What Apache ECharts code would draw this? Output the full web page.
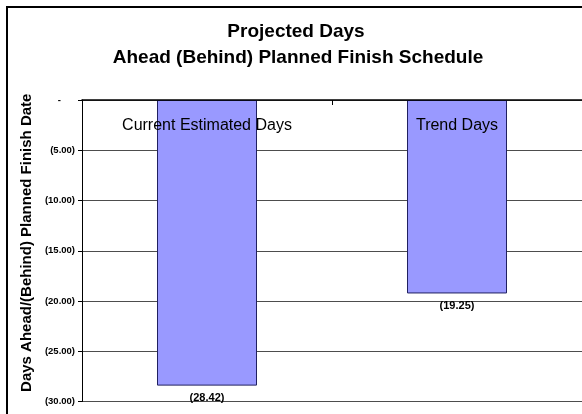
<!DOCTYPE html>
<html>
<head>
<meta charset="utf-8">
<script src="https://cdn.jsdelivr.net/npm/echarts@6/dist/echarts.min.js"></script>
<style>
  html, body { margin: 0; padding: 0; background: #fff; }
  #chart { width: 582px; height: 414px; }
</style>
</head>
<body>
<div id="chart"></div>
<script>
// Schedule variance, in days (negative = behind plan)
const categories = ['Current Estimated Days', 'Trend Days'];
const daysAhead = [-28.42, -19.25];
const titleLines = ['Projected Days', 'Ahead (Behind) Planned Finish Schedule'];
const yAxisTitle = 'Days Ahead/(Behind) Planned Finish Date';

const FONT = '"Liberation Sans", Arial, Helvetica, sans-serif';

// Accounting style: negatives in parentheses, zero as a dash
function acct(v) {
  if (v === 0) return '{z|-}';
  return '(' + Math.abs(v).toFixed(2) + ')';
}

const chart = echarts.init(document.getElementById('chart'), null, { renderer: 'canvas' });

chart.setOption({
  animation: false,
  backgroundColor: '#ffffff',
  graphic: [
    {
      type: 'rect',
      shape: { x: 7, y: 7, width: 700, height: 600 },
      style: { fill: 'none', stroke: '#000', lineWidth: 2 },
      silent: true
    },
    {
      type: 'text',
      x: 296, y: 32,
      style: {
        text: titleLines[0], font: 'bold 19px ' + FONT, fill: '#000',
        textAlign: 'center', textVerticalAlign: 'middle'
      }
    },
    {
      type: 'text',
      x: 298, y: 58,
      style: {
        text: titleLines[1], font: 'bold 19px ' + FONT, fill: '#000',
        textAlign: 'center', textVerticalAlign: 'middle'
      }
    }
  ],
  grid: { left: 82, top: 100, right: 0, bottom: 12.5, containLabel: false },
  xAxis: {
    type: 'category',
    data: categories,
    position: 'top',
    axisLine: { show: true, onZero: false, lineStyle: { color: '#000', width: 1.5 } },
    axisTick: { show: true, inside: true, length: 5, lineStyle: { color: '#000' } },
    axisLabel: {
      inside: true, margin: 18, color: '#000',
      fontFamily: FONT, fontSize: 16, verticalAlign: 'top'
    },
    z: 10
  },
  yAxis: {
    type: 'value',
    min: -30, max: 0, interval: 5,
    name: yAxisTitle,
    nameLocation: 'middle',
    nameRotate: 90,
    nameGap: 41,
    nameTextStyle: {
      fontFamily: FONT, fontSize: 15, fontWeight: 'bold', color: '#000',
      padding: [0, 0, 0, 16]
    },
    axisLine: { show: true, lineStyle: { color: '#000', width: 1 } },
    axisTick: { show: true, length: 4, lineStyle: { color: '#000' } },
    axisLabel: {
      formatter: acct, margin: 7, color: '#000',
      fontFamily: FONT, fontSize: 9.5, fontWeight: 'bold',
      rich: {
        z: { fontFamily: FONT, fontSize: 9.5, fontWeight: 'bold', color: '#000', padding: [0, 14, 0, 0] }
      }
    },
    splitLine: { show: true, lineStyle: { color: '#4d4d4d', width: 1 } }
  },
  series: [{
    type: 'bar',
    data: daysAhead,
    barWidth: '40%',
    itemStyle: { color: '#9999FF', borderColor: '#202060', borderWidth: 1 },
    label: {
      show: true,
      position: 'bottom',
      distance: 7,
      formatter: p => acct(p.value),
      fontFamily: FONT, fontSize: 11, fontWeight: 'bold', color: '#000'
    }
  }]
});
</script>
</body>
</html>
